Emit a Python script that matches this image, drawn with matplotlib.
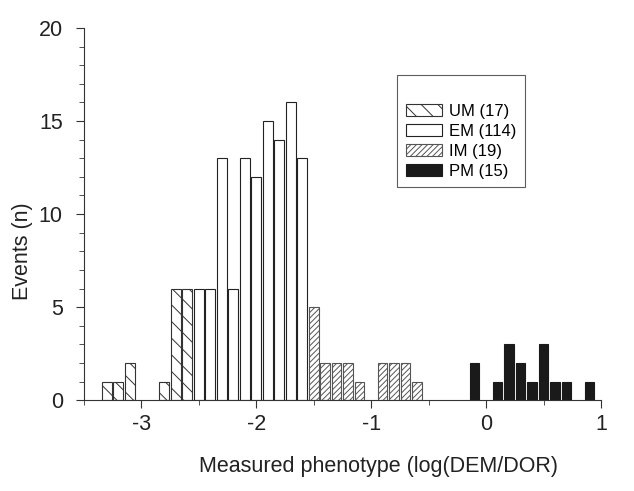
import matplotlib
matplotlib.use('Agg')
import matplotlib.pyplot as plt
import numpy as np
from matplotlib.ticker import MultipleLocator

plt.rcParams['font.family'] = ['Liberation Sans', 'DejaVu Sans']
plt.rcParams['hatch.linewidth'] = 0.7
plt.rcParams['axes.unicode_minus'] = False

# bin centres (log(DEM/DOR)) and counts per group
um_x = [-3.3, -3.2, -3.1, -2.8, -2.7, -2.6]
um_n = [1, 1, 2, 1, 6, 6]

em_x = [-2.5, -2.4, -2.3, -2.2, -2.1, -2.0, -1.9, -1.8, -1.7, -1.6]
em_n = [6, 6, 13, 6, 13, 12, 15, 14, 16, 13]

im_x = [-1.5, -1.4, -1.3, -1.2, -1.1, -0.9, -0.8, -0.7, -0.6]
im_n = [5, 2, 2, 2, 1, 2, 2, 2, 1]

pm_x = [-0.1, 0.1, 0.2, 0.3, 0.4, 0.5, 0.6, 0.7, 0.9]
pm_n = [2, 1, 3, 2, 1, 3, 1, 1, 1]

w = 0.085

fig = plt.figure(figsize=(6.34, 4.91), dpi=100)
ax = fig.add_axes([0.132, 0.185, 0.816, 0.758])

ax.bar(um_x, um_n, width=w, color='white', edgecolor='#333333', hatch='\\\\', lw=0.8, label='UM (17)')
ax.bar(em_x, em_n, width=w, color='white', edgecolor='#222222', lw=0.8, label='EM (114)')
ax.bar(im_x, im_n, width=w, color='white', edgecolor='#555555', hatch='//////', lw=0.8, label='IM (19)')
ax.bar(pm_x, pm_n, width=w, color='#1a1a1a', edgecolor='#1a1a1a', lw=0.8, label='PM (15)')

ax.set_xlim(-3.5, 1.0)
ax.set_ylim(0, 20)
ax.xaxis.set_major_locator(MultipleLocator(1))
ax.xaxis.set_minor_locator(MultipleLocator(0.5))
ax.yaxis.set_major_locator(MultipleLocator(5))
ax.yaxis.set_minor_locator(MultipleLocator(1))

ax.spines['top'].set_visible(False)
ax.spines['right'].set_visible(False)
for s in ['left', 'bottom']:
    ax.spines[s].set_color('#333333')
ax.tick_params(which='major', length=6, color='#333333', labelsize=15.5, colors='#222222', pad=4)
ax.tick_params(axis='y', which='major', pad=9)
ax.tick_params(which='minor', length=3.5, color='#333333')

ax.set_xlabel('Measured phenotype (log(DEM/DOR)', fontsize=15.5, color='#222222')
ax.xaxis.set_label_coords(0.57, -0.15)
ax.set_ylabel('Events (n)', fontsize=15.5, color='#222222')
ax.yaxis.set_label_coords(-0.098, 0.4)

# blank title just to leave the empty band at the top of the box
leg = ax.legend(loc='upper left', bbox_to_anchor=(0.606, 0.873), fontsize=12, frameon=True,
                fancybox=False, handlelength=2.2, handleheight=0.75, borderpad=0.5,
                labelspacing=0.3, handletextpad=0.4, borderaxespad=0,
                title=' ', title_fontsize=12)
leg.get_frame().set_edgecolor('#333333')
leg.get_frame().set_linewidth(0.8)

fig.savefig('out.png', dpi=100)
